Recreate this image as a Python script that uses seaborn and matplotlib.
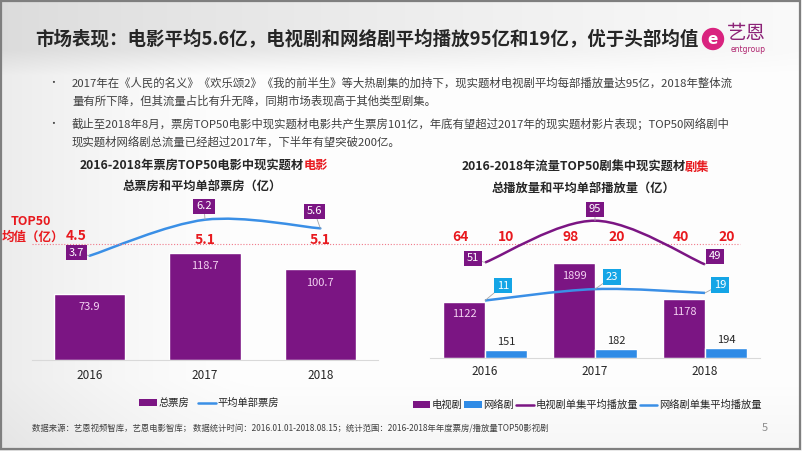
import numpy as np
import pandas as pd
import matplotlib
matplotlib.use('Agg')
import matplotlib.pyplot as plt
import seaborn as sns
from matplotlib.path import Path
from matplotlib.patches import PathPatch, Rectangle, Circle, Patch
from matplotlib.lines import Line2D
from matplotlib.transforms import blended_transform_factory

# ---------------- data ----------------
years = ['2016', '2017', '2018']
movie_total = [73.9, 118.7, 100.7]
movie_avg = [3.7, 6.2, 5.6]
movie_top50 = [4.5, 5.1, 5.1]

series_names = ['电视剧', '网络剧']
tv_total = [1122, 1899, 1178]
web_total = [151, 182, 194]
tv_avg = [51, 95, 49]
web_avg = [11, 23, 19]
tv_top50 = [64, 98, 40]
web_top50 = [10, 20, 20]

title = '市场表现：电影平均5.6亿，电视剧和网络剧平均播放95亿和19亿，优于头部均值'
bullets = [
    ['2017年在《人民的名义》《欢乐颂2》《我的前半生》等大热剧集的加持下，现实题材电视剧平均每部播放量达95亿，2018年整体流',
     '量有所下降，但其流量占比有升无降，同期市场表现高于其他类型剧集。'],
    ['截止至2018年8月，票房TOP50电影中现实题材电影共产生票房101亿，年底有望超过2017年的现实题材影片表现；TOP50网络剧中',
     '现实题材网络剧总流量已经超过2017年，下半年有望突破200亿。'],
]
footer = '数据来源：艺恩视频智库，艺恩电影智库； 数据统计时间：2016.01.01-2018.08.15；统计范围：2016-2018年年度票房/播放量TOP50影视剧'

# ---------------- style ----------------
sns.set_theme(style='white')
plt.rcParams['font.family'] = ['Noto Sans CJK SC', 'DejaVu Sans']
plt.rcParams['axes.unicode_minus'] = False

PURPLE = '#7B1583'
BLUE_BAR = '#2F8BE6'
BLUE_LINE = '#3A8FE6'
BLUE_BOX = '#14A5E6'
RED = '#E8191E'
LABEL_PINK = '#F3D2F2'
DARK = '#262626'

W, H = 802, 451
fig = plt.figure(figsize=(8.02, 4.51), dpi=100)


def fx(px):
    return px / W


def fy(py):
    return 1 - py / H


def add_axes_px(x0, y0, x1, y1):
    return fig.add_axes([x0 / W, 1 - y1 / H, (x1 - x0) / W, (y1 - y0) / H])


# ---------------- background ----------------
bg = fig.add_axes([0, 0, 1, 1], zorder=-10)
yy, xx = np.mgrid[0:H, 0:W]
body = 0.995 - 0.07 * np.clip(1 - xx / 260.0, 0, 1) ** 1.5 - 0.03 * np.clip((yy - 380) / 70.0, 0, 1)
band = 0.86 + 0.12 * (xx / W) ** 0.8
mix = np.clip((yy - 50) / 25.0, 0, 1)
img = band * (1 - mix) + body * mix
bg.imshow(np.dstack([img, img, img]), extent=[0, W, H, 0], aspect='auto')
bg.set_xlim(0, W)
bg.set_ylim(H, 0)
bg.axis('off')
bg.add_patch(Rectangle((1, 1), W - 3, H - 3, fill=False, ec='#7F7F7F', lw=1.6))

# ---------------- header ----------------
fig.text(fx(35), fy(39), title, fontsize=13.3, fontweight='bold', color=DARK, va='center', ha='left')
logo = Circle((713 / 100, (H - 39) / 100), 0.105, transform=fig.dpi_scale_trans, color='#D9237F', zorder=5)
fig.patches.append(logo)
fig.text(fx(713), fy(40), 'e', fontsize=11, fontweight='bold', color='white', ha='center', va='center',
         family='DejaVu Sans', zorder=6)
fig.text(fx(746), fy(33), '艺恩', fontsize=14, color='#8C2277', ha='center', va='center')
fig.text(fx(748), fy(49), 'entgroup', fontsize=5.5, color='#B0246F', ha='center', va='center', family='DejaVu Sans')

# bullets
bullet_y = [(83, 101), (124, 142)]
for lines, ys in zip(bullets, bullet_y):
    fig.text(fx(53), fy(ys[0]), '•', fontsize=7, color='#404040', ha='center', va='center')
    for ln, y in zip(lines, ys):
        fig.text(fx(72), fy(y), ln, fontsize=8.2, color='#404040', ha='left', va='center')

# footer
fig.text(fx(32), fy(428), footer, fontsize=6, color='#404040', ha='left', va='center')
fig.text(fx(765), fy(428), '5', fontsize=8, color='#8C8C8C', ha='center', va='center')


# ---------------- helpers ----------------
def smooth_path(xs, ys):
    pts = list(zip(xs, ys))
    n = len(pts)
    verts = [pts[0]]
    codes = [Path.MOVETO]
    for i in range(n - 1):
        p0 = pts[i - 1] if i > 0 else pts[i]
        p1 = pts[i]
        p2 = pts[i + 1]
        p3 = pts[i + 2] if i + 2 < n else pts[i + 1]
        c1 = (p1[0] + (p2[0] - p0[0]) / 6, p1[1] + (p2[1] - p0[1]) / 6)
        c2 = (p2[0] - (p3[0] - p1[0]) / 6, p2[1] - (p3[1] - p1[1]) / 6)
        verts += [c1, c2, p2]
        codes += [Path.CURVE4] * 3
    return Path(verts, codes)


def style_axes(ax, pad):
    ax.set_facecolor('none')
    for s in ['left', 'right', 'top']:
        ax.spines[s].set_visible(False)
    ax.spines['bottom'].set_color('#D9D9D9')
    ax.spines['bottom'].set_linewidth(0.8)
    ax.set_yticks([])
    ax.set_xlabel('')
    ax.set_ylabel('')
    ax.tick_params(axis='x', length=0, pad=pad, labelsize=8.5, labelcolor=DARK)


def style_twin(ax):
    ax.set_facecolor('none')
    for s in ax.spines.values():
        s.set_visible(False)
    ax.set_yticks([])
    ax.set_ylabel('')


def box_label(ax, x, y, txt, off, fc):
    ax.annotate(txt, xy=(x, y), xytext=off, textcoords='offset points', ha='center', va='center',
                fontsize=8, color='white',
                bbox=dict(boxstyle='square,pad=0.25', fc=fc, ec='none'),
                arrowprops=dict(arrowstyle='-', color='#A6A6A6', lw=0.6, shrinkA=0, shrinkB=0),
                zorder=6)


# ---------------- left chart ----------------
tl = fig.text(fx(80), fy(165), '2016-2018年票房TOP50电影中现实题材', fontsize=8.8, fontweight='bold',
              color=DARK, ha='left', va='center')
fig.text(fx(202), fy(186), '总票房和平均单部票房（亿）', fontsize=8.8, fontweight='bold', color=DARK,
         ha='center', va='center')

axL = add_axes_px(32, 200, 378, 360)
sns.barplot(x=years, y=movie_total, color=PURPLE, saturation=1, width=0.62, ax=axL)
axL.set_xlim(-0.5, 2.5)
axL.set_ylim(0, 178)
style_axes(axL, 6.5)
for i, v in enumerate(movie_total):
    axL.annotate(f'{v}', xy=(i, v), xytext=(0, -9.5), textcoords='offset points', ha='center', va='center',
                 fontsize=8, color=LABEL_PINK)

axL2 = axL.twinx()
axL2.set_ylim(-3.54, 7.57)
style_twin(axL2)
axL2.add_patch(PathPatch(smooth_path(range(len(years)), movie_avg), fill=False, ec=BLUE_LINE, lw=1.8,
                         capstyle='round'))
axL2.axhline(movie_top50[0], xmin=0, xmax=(740 - 32) / (378 - 32), color='#F07A8A', lw=0.8,
             ls=(0, (1, 1.6)), clip_on=False, zorder=1)
left_box_off = [(-9.5, 2.2), (-0.7, 9.6), (-4.3, 12.2)]
for i, v in enumerate(movie_avg):
    box_label(axL2, i, v, f'{v}', left_box_off[i], PURPLE)

trL = blended_transform_factory(axL.transData, fig.transFigure)
left_red_off = [(-10, 1), (0, -2), (0, -2)]
for i, v in enumerate(movie_top50):
    axL.annotate(f'{v}', xy=(i, fy(237)), xycoords=trL, xytext=left_red_off[i], textcoords='offset points',
                 ha='center', va='center', fontsize=10, fontweight='bold', color=RED)
fig.text(fx(31), fy(222), 'TOP50', fontsize=9, fontweight='bold', color=RED, ha='center', va='center')
fig.text(fx(33), fy(237), '均值（亿）', fontsize=9, fontweight='bold', color=RED, ha='center', va='center')

legL = axL.legend(handles=[Patch(fc=PURPLE, ec='none'), Line2D([], [], color=BLUE_LINE, lw=1.8)],
                  labels=['总票房', '平均单部票房'], loc='center', bbox_to_anchor=(fx(209), fy(403)),
                  bbox_transform=fig.transFigure, ncol=2, frameon=False, fontsize=7.4, handlelength=1.7,
                  handletextpad=0.15, columnspacing=0.9, handleheight=0.6)
for t in legL.get_texts():
    t.set_color(DARK)

# ---------------- right chart ----------------
tr = fig.text(fx(462), fy(167), '2016-2018年流量TOP50剧集中现实题材', fontsize=8.8, fontweight='bold',
              color=DARK, ha='left', va='center')
fig.text(fx(584), fy(188), '总播放量和平均单部播放量（亿）', fontsize=8.8, fontweight='bold', color=DARK,
         ha='center', va='center')

df = pd.DataFrame({'year': years * 2,
                   'value': tv_total + web_total,
                   'type': [series_names[0]] * 3 + [series_names[1]] * 3})
axR = add_axes_px(430, 200, 760, 358)
sns.barplot(data=df, x='year', y='value', hue='type', palette=[PURPLE, BLUE_BAR], saturation=1,
            width=0.76, ax=axR, legend=False)
axR.set_xlim(-0.5, 2.5)
axR.set_ylim(0, 3160)
style_axes(axR, 5)
for i, v in enumerate(tv_total):
    axR.annotate(f'{v}', xy=(i - 0.19, v), xytext=(0, -9), textcoords='offset points', ha='center',
                 va='center', fontsize=8, color=LABEL_PINK)
for i, v in enumerate(web_total):
    axR.annotate(f'{v}', xy=(i + 0.19, v), xytext=(0, 6), textcoords='offset points', ha='center',
                 va='center', fontsize=8, color=DARK)

axR2 = axR.twinx()
axR2.set_ylim(-49.5, 116.8)
style_twin(axR2)
axR2.add_patch(PathPatch(smooth_path(range(len(years)), tv_avg), fill=False, ec=PURPLE, lw=1.8))
axR2.add_patch(PathPatch(smooth_path(range(len(years)), web_avg), fill=False, ec=BLUE_LINE, lw=1.8))
tv_box_off = [(-8.6, 2.9), (0, 8.2), (7.2, 5.8)]
web_box_off = [(13, 10.8), (12.2, 8.6), (10.8, 5.8)]
for i, v in enumerate(tv_avg):
    box_label(axR2, i, v, f'{v}', tv_box_off[i], PURPLE)
for i, v in enumerate(web_avg):
    box_label(axR2, i, v, f'{v}', web_box_off[i], BLUE_BOX)

trR = blended_transform_factory(axR.transData, fig.transFigure)
for i in range(len(years)):
    axR.annotate(f'{tv_top50[i]}', xy=(i, fy(237)), xycoords=trR, xytext=(-17.5, 0), textcoords='offset points',
                 ha='center', va='center', fontsize=10, fontweight='bold', color=RED)
    axR.annotate(f'{web_top50[i]}', xy=(i, fy(237)), xycoords=trR, xytext=(15.5, 0), textcoords='offset points',
                 ha='center', va='center', fontsize=10, fontweight='bold', color=RED)

legR = axR.legend(handles=[Patch(fc=PURPLE, ec='none'), Patch(fc=BLUE_BAR, ec='none'),
                           Line2D([], [], color=PURPLE, lw=1.8), Line2D([], [], color=BLUE_LINE, lw=1.8)],
                  labels=['电视剧', '网络剧', '电视剧单集平均播放量', '网络剧单集平均播放量'],
                  loc='center', bbox_to_anchor=(fx(587), fy(405)), bbox_transform=fig.transFigure,
                  ncol=4, frameon=False, fontsize=7.4, handlelength=1.7, handletextpad=0.15,
                  columnspacing=0.2, handleheight=0.6)
for t in legR.get_texts():
    t.set_color(DARK)

# red suffix on chart titles
for base, word in [(tl, '电影'), (tr, '剧集')]:
    axL.annotate(word, xy=(1, 0.5), xycoords=base, xytext=(-0.6, 0), textcoords='offset points',
                 ha='left', va='center', fontsize=8.8, fontweight='bold', color=RED, annotation_clip=False)

fig.savefig('out.png', dpi=100)
